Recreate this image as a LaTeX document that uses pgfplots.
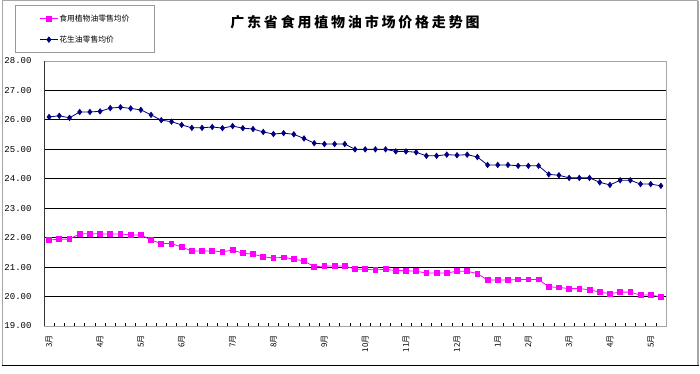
\documentclass[border=0pt]{standalone}
\usepackage{fontspec}
\usepackage{pgfplots}
\usepackage{pgfplotstable}
\pgfplotsset{compat=1.18}
\newfontfamily\cjk{Noto Sans CJK SC}
\newfontfamily\cjktitle[LetterSpace=20]{Noto Sans CJK SC}
\newfontfamily\mono{Liberation Mono}
\definecolor{navyc}{RGB}{0,0,128}
\definecolor{magc}{RGB}{255,0,255}

\pgfplotstableread{
x food peanut
0.5 21.92 26.10
1.5 21.95 26.14
2.5 21.95 26.07
3.5 22.13 26.27
4.5 22.13 26.27
5.5 22.13 26.29
6.5 22.12 26.40
7.5 22.13 26.43
8.5 22.09 26.39
9.5 22.09 26.34
10.5 21.92 26.17
11.5 21.80 25.99
12.5 21.80 25.94
13.5 21.68 25.83
14.5 21.55 25.73
15.5 21.55 25.73
16.5 21.55 25.76
17.5 21.52 25.72
18.5 21.58 25.79
19.5 21.47 25.72
20.5 21.44 25.69
21.5 21.35 25.59
22.5 21.31 25.52
23.5 21.33 25.55
24.5 21.27 25.51
25.5 21.21 25.37
26.5 21.01 25.21
27.5 21.04 25.18
28.5 21.04 25.18
29.5 21.04 25.18
30.5 20.93 25.00
31.5 20.93 25.00
32.5 20.90 25.00
33.5 20.93 25.00
34.5 20.88 24.93
35.5 20.88 24.93
36.5 20.86 24.90
37.5 20.80 24.78
38.5 20.80 24.78
39.5 20.80 24.82
40.5 20.86 24.80
41.5 20.86 24.82
42.5 20.78 24.74
43.5 20.56 24.47
44.5 20.56 24.47
45.5 20.56 24.47
46.5 20.58 24.44
47.5 20.58 24.44
48.5 20.58 24.44
49.5 20.33 24.15
50.5 20.31 24.12
51.5 20.27 24.03
52.5 20.27 24.03
53.5 20.23 24.03
54.5 20.15 23.88
55.5 20.10 23.79
56.5 20.15 23.95
57.5 20.15 23.95
58.5 20.05 23.82
59.5 20.05 23.82
60.5 19.99 23.76
}\data

\begin{document}
\begin{tikzpicture}[x=1pt,y=1pt]
\useasboundingbox (0,0) rectangle (700,374);
\fill[white] (0,0) rectangle (700,374);
\draw[gray!70, line width=1pt] (2,8) -- (2,373) -- (698,373);
\draw[gray!70, line width=2pt] (698,373) -- (698,8);
\draw[black, line width=1pt] (2,8) -- (699,8);

\node[font=\cjktitle\bfseries\fontsize{14}{14}\selectfont] at (355,352) {广东省食用植物油市场价格走势图};

\begin{axis}[
  at={(44pt,48pt)}, anchor=south west,
  scale only axis, width=622pt, height=265pt,
  xmin=0, xmax=61, ymin=19, ymax=28,
  xtick={0,...,61}, xticklabels={},
  xtick pos=bottom, ytick pos=left,
  tick align=inside, major tick length=3pt,
  x tick style={black, line width=0.6pt},
  y tick style={draw=none},
  ytick={19,...,28},
  ymajorgrids, grid style={black, line width=0.8pt},
  axis line style={gray!70, line width=0.8pt},
  yticklabel style={font=\mono\fontsize{9}{9}\selectfont, xshift=-9pt},
  /pgf/number format/.cd, fixed, fixed zerofill, precision=2, assume math mode=true,
  /pgfplots/.cd,
  extra x ticks={0.5,5.5,9.5,13.5,18.5,22.5,27.5,31.5,35.5,40.5,44.5,47.5,51.5,55.5,59.5},
  extra x tick labels={3月,4月,5月,6月,7月,8月,9月,10月,11月,12月,1月,2月,3月,4月,5月},
  extra x tick style={major tick length=0pt, tick label style={yshift=-6pt, rotate=90, anchor=east, font=\cjk\fontsize{8}{8}\selectfont}},
  legend style={at={(axis description cs:-0.0466,1.2113)}, anchor=north west,
    draw=gray!80, line width=1pt, fill=white,
    font=\cjk\fontsize{7.8}{8}\selectfont,
    inner xsep=24pt, inner ysep=8pt, row sep=11pt,
    cells={anchor=west}, nodes={inner sep=1pt}},
  legend image code/.code={\draw[mark repeat=2,mark phase=2] plot coordinates {(0pt,0pt) (9pt,0pt) (18pt,0pt)};},
]
\addplot[magc, line width=0.8pt, mark=square*, mark size=2.4pt, mark options={solid}] table[x=x,y=food]{\data};
\addplot[navyc, line width=0.8pt, mark=diamond*, mark size=2.6pt, mark options={solid}] table[x=x,y=peanut]{\data};
\legend{食用植物油零售均价, 花生油零售均价}
\draw[black, line width=0.8pt] (rel axis cs:0,0) -- (rel axis cs:1,0);
\draw[black!80, line width=0.8pt] (rel axis cs:0,0) -- (rel axis cs:0,1);
\end{axis}
\end{tikzpicture}
\end{document}
